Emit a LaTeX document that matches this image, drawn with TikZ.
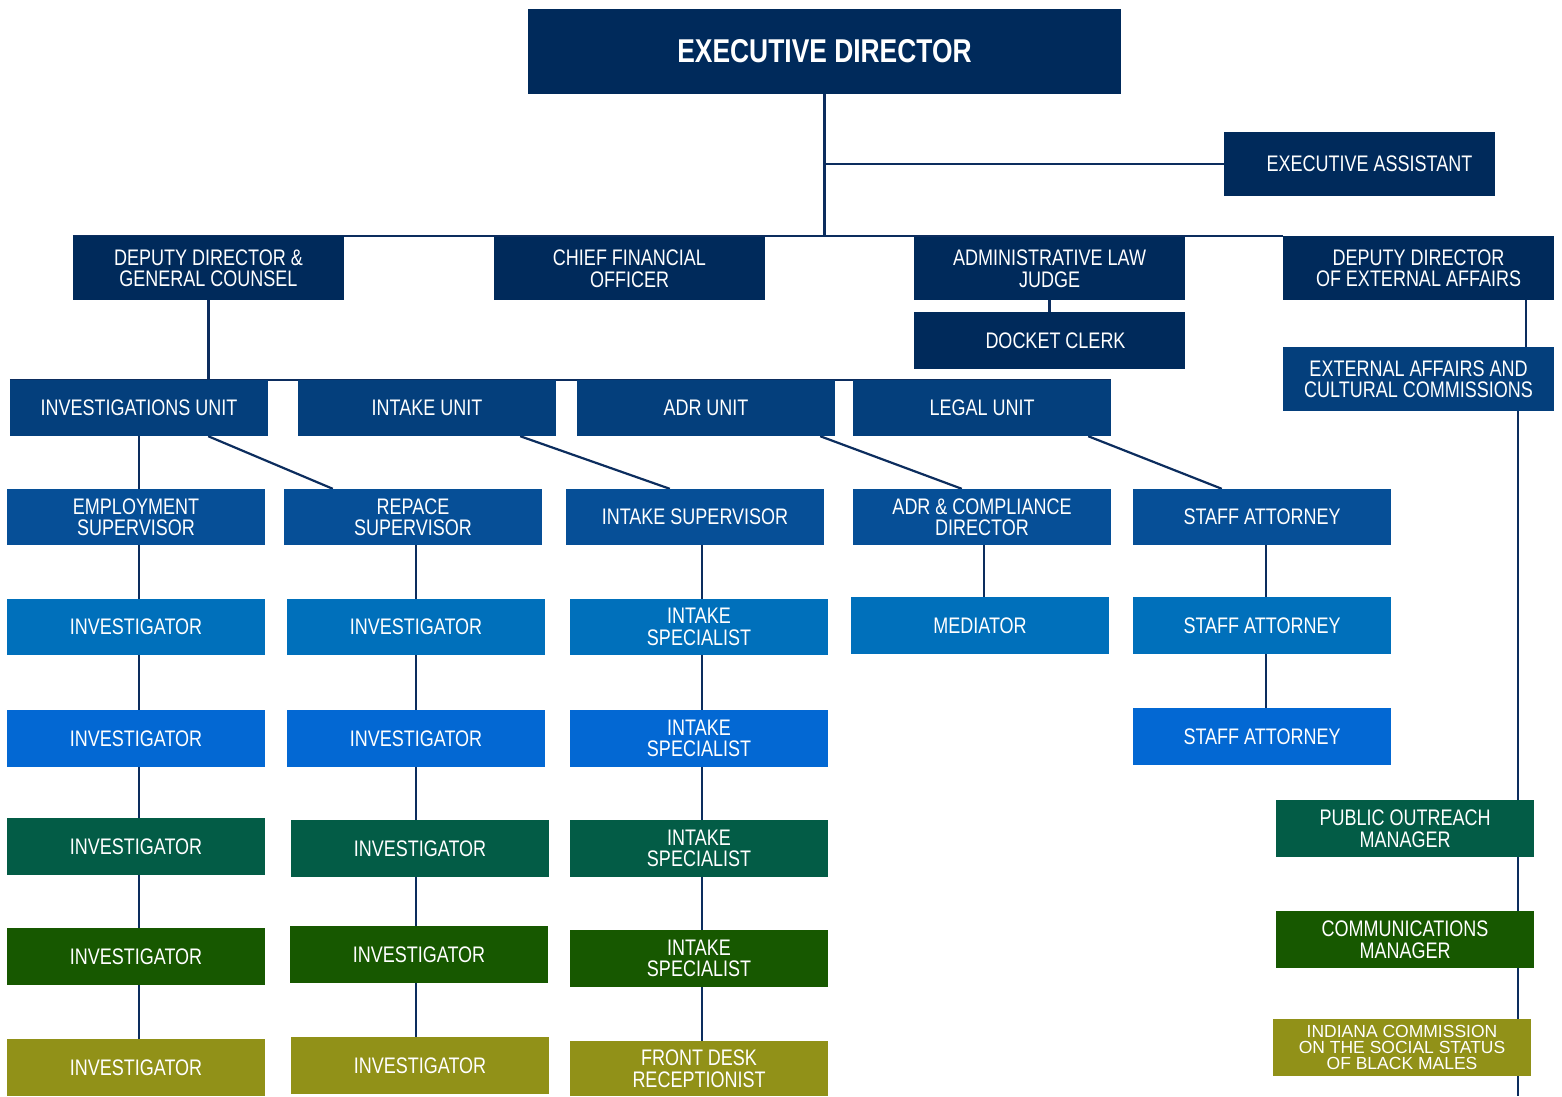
\documentclass[tikz,border=0pt]{standalone}
\usepackage{fontspec}
\setmainfont[FakeStretch=0.80]{Liberation Sans}
\newfontfamily\widefont[FakeStretch=1.0]{Liberation Sans}
\usetikzlibrary{backgrounds}
\definecolor{cnavy}{HTML}{002A5B}
\definecolor{cunit}{HTML}{043F7C}
\definecolor{cthree}{HTML}{064F97}
\definecolor{cfour}{HTML}{0070BB}
\definecolor{cfive}{HTML}{0368D3}
\definecolor{csix}{HTML}{035C46}
\definecolor{cseven}{HTML}{175800}
\definecolor{ceight}{HTML}{919118}
\definecolor{cline}{HTML}{0C2D5E}
\tikzset{
  box/.style={draw=none, inner sep=0pt, align=center, text=white,
    font=\fontsize{22.5}{21.5}\selectfont},
  conn/.style={draw=cline, line width=2.2pt},
}
\newcommand{\bx}[8][]{%
  \node[box, fill=#7, minimum width={(#5-#3)*1pt}, minimum height={(#6-#4)*1pt}, #1]
    (#2) at ({(#3+#5)/2},{(#4+#6)/2}) {#8};}
\begin{document}
\begin{tikzpicture}[x=1pt,y=-1pt]
\useasboundingbox (0,0) rectangle (1562,1096);
% level 0-2
\bx[font=\bfseries\fontsize{33}{33}\selectfont]{ed}{528}{9}{1121}{94}{cnavy}{EXECUTIVE DIRECTOR}
\bx{ea}{1224}{132}{1495}{196}{cnavy}{\hspace*{20pt}EXECUTIVE ASSISTANT}
\bx{dd}{73}{236}{344}{300}{cnavy}{DEPUTY DIRECTOR \&\\GENERAL COUNSEL}
\bx{cfo}{494}{237}{765}{300}{cnavy}{CHIEF FINANCIAL\\OFFICER}
\bx{alj}{914}{237}{1185}{300}{cnavy}{ADMINISTRATIVE LAW\\JUDGE}
\bx{dde}{1283}{236}{1554}{300}{cnavy}{DEPUTY DIRECTOR\\OF EXTERNAL AFFAIRS}
\bx{dc}{914}{312}{1185}{369}{cnavy}{\hspace*{12pt}DOCKET CLERK}
\bx{eac}{1283}{347}{1554}{411}{cunit}{EXTERNAL AFFAIRS AND\\CULTURAL COMMISSIONS}
% units
\bx{iu}{10}{380}{268}{436}{cunit}{INVESTIGATIONS UNIT}
\bx{inu}{298}{380}{556}{436}{cunit}{INTAKE UNIT}
\bx{au}{577}{380}{835}{436}{cunit}{ADR UNIT}
\bx{lu}{853}{380}{1111}{436}{cunit}{LEGAL UNIT}
% level 3
\bx{es}{7}{489}{265}{545}{cthree}{EMPLOYMENT\\SUPERVISOR}
\bx{rs}{284}{489}{542}{545}{cthree}{REPACE\\SUPERVISOR}
\bx{is}{566}{489}{824}{545}{cthree}{INTAKE SUPERVISOR}
\bx{acd}{853}{489}{1111}{545}{cthree}{ADR \& COMPLIANCE\\DIRECTOR}
\bx{sa1}{1133}{489}{1391}{545}{cthree}{STAFF ATTORNEY}
% level 4
\bx{i11}{7}{599}{265}{655}{cfour}{INVESTIGATOR}
\bx{i21}{287}{599}{545}{655}{cfour}{INVESTIGATOR}
\bx{isp1}{570}{599}{828}{655}{cfour}{INTAKE\\SPECIALIST}
\bx{med}{851}{597}{1109}{654}{cfour}{MEDIATOR}
\bx{sa2}{1133}{597}{1391}{654}{cfour}{STAFF ATTORNEY}
% level 5
\bx{i12}{7}{710}{265}{767}{cfive}{INVESTIGATOR}
\bx{i22}{287}{710}{545}{767}{cfive}{INVESTIGATOR}
\bx{isp2}{570}{710}{828}{767}{cfive}{INTAKE\\SPECIALIST}
\bx{sa3}{1133}{708}{1391}{765}{cfive}{STAFF ATTORNEY}
% level 6
\bx{i13}{7}{818}{265}{875}{csix}{INVESTIGATOR}
\bx{i23}{291}{820}{549}{877}{csix}{INVESTIGATOR}
\bx{isp3}{570}{820}{828}{877}{csix}{INTAKE\\SPECIALIST}
\bx{pom}{1276}{800}{1534}{857}{csix}{PUBLIC OUTREACH\\MANAGER}
% level 7
\bx{i14}{7}{928}{265}{985}{cseven}{INVESTIGATOR}
\bx{i24}{290}{926}{548}{983}{cseven}{INVESTIGATOR}
\bx{isp4}{570}{930}{828}{987}{cseven}{INTAKE\\SPECIALIST}
\bx{cm}{1276}{911}{1534}{968}{cseven}{COMMUNICATIONS\\MANAGER}
% level 8
\bx{i15}{7}{1039}{265}{1096}{ceight}{INVESTIGATOR}
\bx{i25}{291}{1037}{549}{1094}{ceight}{INVESTIGATOR}
\bx{fdr}{570}{1041}{828}{1096}{ceight}{FRONT DESK\\RECEPTIONIST}
\bx[font=\widefont\fontsize{17.5}{16}\selectfont]{icm}{1273}{1019}{1531}{1076}{ceight}{INDIANA COMMISSION\\ON THE SOCIAL STATUS\\OF BLACK MALES}
% connector coordinates
\coordinate (c1) at (139,0);
\coordinate (c2) at (416,0);
\coordinate (c3) at (702,0);
\coordinate (c4) at (984,0);
\coordinate (c5) at (1266,0);
\coordinate (xr1) at (1526,0);
\coordinate (xr2) at (1518,1096);
\begin{pgfonlayer}{background}
\draw[conn] (ed.south) -- (ed.south |- dd.north);
\draw[conn] (ed.south |- ea.west) -- (ea.west);
\draw[conn] (dd.north west) -- (dde.north west);
\draw[conn] (dd.south) -- (dd.south |- iu.north);
\draw[conn] (iu.north west) -- (lu.north east);
\draw[conn] (alj.south) -- (dc.north);
\draw[conn] (dde.south -| xr1) -- (eac.north -| xr1);
\draw[conn] (eac.south -| xr2) -- (xr2);
\draw[conn] ([xshift=-60pt]iu.south east) -- ([xshift=49pt]rs.north west);
\draw[conn] ([xshift=-36pt]inu.south east) -- ([xshift=104pt]is.north west);
\draw[conn] ([xshift=-15pt]au.south east) -- ([xshift=109pt]acd.north west);
\draw[conn] ([xshift=-23pt]lu.south east) -- ([xshift=89pt]sa1.north west);
\foreach \a/\b in {iu/es,es/i11,i11/i12,i12/i13,i13/i14,i14/i15}
  \draw[conn] (\a.south -| c1) -- (\b.north -| c1);
\foreach \a/\b in {rs/i21,i21/i22,i22/i23,i23/i24,i24/i25}
  \draw[conn] (\a.south -| c2) -- (\b.north -| c2);
\foreach \a/\b in {is/isp1,isp1/isp2,isp2/isp3,isp3/isp4,isp4/fdr}
  \draw[conn] (\a.south -| c3) -- (\b.north -| c3);
\draw[conn] (acd.south -| c4) -- (med.north -| c4);
\foreach \a/\b in {sa1/sa2,sa2/sa3}
  \draw[conn] (\a.south -| c5) -- (\b.north -| c5);
\end{pgfonlayer}
\end{tikzpicture}
\end{document}
